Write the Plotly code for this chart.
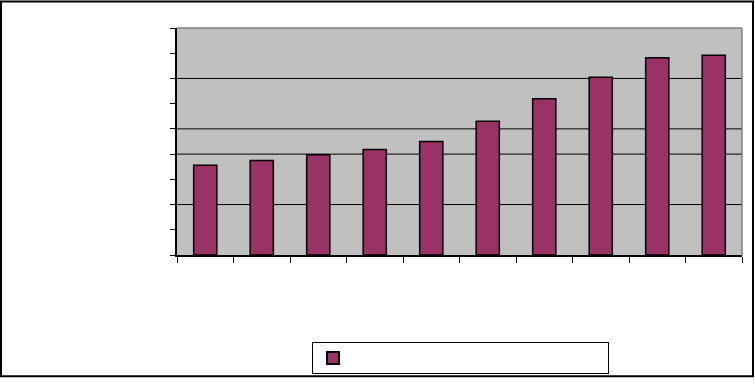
import plotly.graph_objects as go

categories = ["1", "2", "3", "4", "5", "6", "7", "8", "9", "10"]
values = [3.56, 3.75, 3.97, 4.18, 4.5, 5.3, 6.19, 7.05, 7.82, 7.92]
series_name = " "
y_max = 9
grid_values = [2, 4, 5, 7]

W, H = 755, 386
ML, MR, MT, MB = 177, 13, 28, 126
PW, PH = W - ML - MR, H - MT - MB

def px_x(p):
    return (p - ML) / PW

def px_y(p):
    return (H - MB - p) / PH

fig = go.Figure()
fig.add_trace(go.Bar(
    x=categories, y=values, name=series_name,
    marker=dict(color="#993366", line=dict(color="black", width=1.5)),
    width=0.41, showlegend=True,
))

shapes = []
for g in grid_values:
    shapes.append(dict(type="line", xref="paper", yref="y", x0=0, x1=1, y0=g, y1=g,
                       line=dict(color="black", width=1), layer="below"))
shapes.append(dict(type="line", xref="paper", yref="paper", x0=0, x1=1, y0=1, y1=1,
                   line=dict(color="#808080", width=1.5), layer="above"))
shapes.append(dict(type="line", xref="paper", yref="paper", x0=1, x1=1, y0=0, y1=1,
                   line=dict(color="#808080", width=1.5), layer="above"))
shapes.append(dict(type="rect", xref="paper", yref="paper",
                   x0=px_x(1), x1=px_x(753), y0=px_y(384), y1=px_y(1),
                   line=dict(color="black", width=2), fillcolor="rgba(0,0,0,0)", layer="above"))

fig.update_layout(
    width=W, height=H, autosize=False,
    margin=dict(l=ML, r=MR, t=MT, b=MB, pad=0),
    paper_bgcolor="white", plot_bgcolor="#C0C0C0",
    shapes=shapes,
    xaxis=dict(type="category", tickson="boundaries", ticks="outside", ticklen=6,
               tickcolor="black", tickwidth=1, showticklabels=False, showgrid=False,
               showline=True, linecolor="black", linewidth=1.5, zeroline=False),
    yaxis=dict(range=[0, y_max], dtick=1, tick0=0, ticks="outside", ticklen=5,
               tickcolor="black", tickwidth=1, showticklabels=False, showgrid=False,
               showline=True, linecolor="black", linewidth=1.5, zeroline=False),
    legend=dict(orientation="h", x=px_x(312), y=px_y(349), xanchor="left", yanchor="top",
                bordercolor="black", borderwidth=1, bgcolor="white",
                entrywidth=250, font=dict(size=13, family="Arial"),
                itemsizing="constant"),
    showlegend=True,
)

page_css = ("document.documentElement.style.margin='0';"
            "document.body.style.margin='0';"
            "document.documentElement.style.overflow='hidden';"
            "document.body.style.overflow='hidden';")

fig.write_html("out.html", config={"responsive": False}, post_script=page_css)
